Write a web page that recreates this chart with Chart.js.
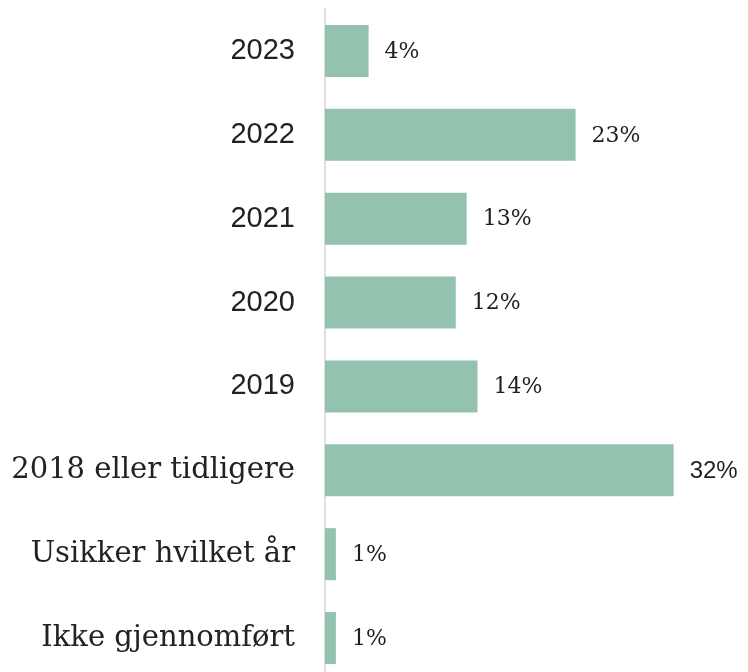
<!DOCTYPE html>
<html>
<head>
<meta charset="utf-8">
<script src="https://cdn.jsdelivr.net/npm/chart.js@4"></script>
<style>
  html, body { margin: 0; padding: 0; background: #fff; overflow: hidden; }
  #wrap { width: 748px; height: 690px; }
</style>
</head>
<body>
<div id="wrap"><canvas id="barChart" width="748" height="690"></canvas></div>
<script>
// Data
const categories = ['2023', '2022', '2021', '2020', '2019', '2018 eller tidligere', 'Usikker hvilket år', 'Ikke gjennomført'];
const shares = [4, 23, 13, 12, 14, 32, 1, 1];

// Some labels use a slab serif, the others a plain sans
const sansLabels = ['2023', '2022', '2021', '2020', '2019'];
const sansValues = [32];

const slab = '"DejaVu Serif", serif';
const sans = '"Liberation Sans", Arial, sans-serif';

// Draw the percentage next to each bar
const valueLabels = {
    id: 'valueLabels',
    afterDatasetsDraw(chart) {
        const ctx = chart.ctx;
        const meta = chart.getDatasetMeta(0);
        ctx.save();
        ctx.fillStyle = '#1f1f1f';
        ctx.textBaseline = 'middle';
        meta.data.forEach((bar, i) => {
            const v = shares[i];
            ctx.font = sansValues.includes(v) ? '24px ' + sans : '22px ' + slab;
            ctx.fillText(v + '%', bar.x + 16, bar.y + 1);
        });
        ctx.restore();
    }
};

const ctx = document.getElementById('barChart').getContext('2d');
new Chart(ctx, {
    type: 'bar',
    data: {
        labels: categories,
        datasets: [{
            data: shares,
            backgroundColor: '#93c3ae',
            borderWidth: 0,
            barPercentage: 0.62,
            categoryPercentage: 1
        }]
    },
    options: {
        indexAxis: 'y',
        responsive: false,
        animation: false,
        layout: { padding: { top: 9, right: 9, bottom: 10, left: 0 } },
        plugins: {
            legend: { display: false },
            tooltip: { enabled: false }
        },
        scales: {
            x: {
                min: 0,
                max: 38,
                display: false,
                grid: { display: false }
            },
            y: {
                grid: { display: false, drawTicks: false },
                border: { display: true, color: '#e0e0e0', width: 2 },
                afterFit(scale) {
                    scale.width = 325;
                    scale.paddingTop = 0;
                    scale.paddingBottom = 0;
                },
                ticks: {
                    padding: 30,
                    color: '#222',
                    font(c) {
                        const label = categories[c.index];
                        return sansLabels.includes(label)
                            ? { family: sans, size: 29 }
                            : { family: slab, size: 29 };
                    }
                }
            }
        }
    },
    plugins: [valueLabels]
});
</script>
</body>
</html>
